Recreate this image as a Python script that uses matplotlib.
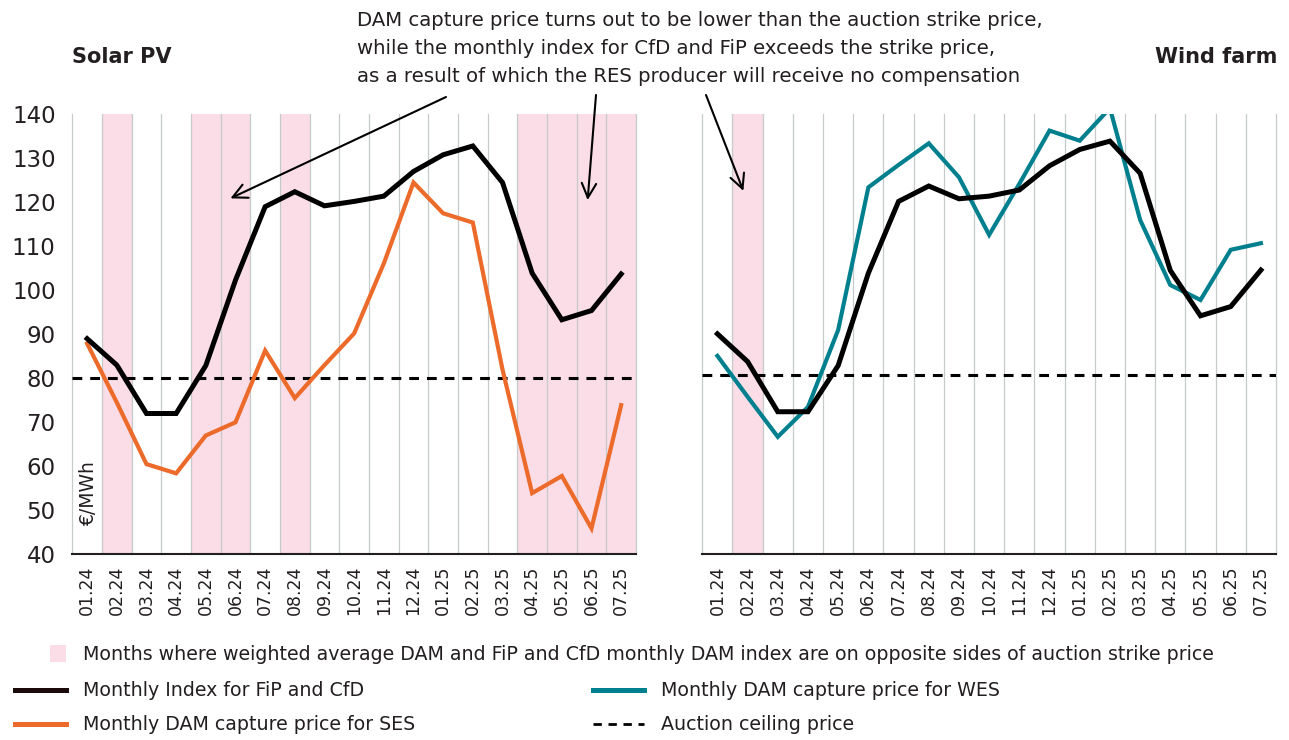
import numpy as np
import matplotlib
matplotlib.use("Agg")
import matplotlib.pyplot as plt
from matplotlib.lines import Line2D
from matplotlib.patches import Rectangle

plt.rcParams['font.family'] = ['DejaVu Sans']

months = ['01.24', '02.24', '03.24', '04.24', '05.24', '06.24', '07.24', '08.24', '09.24', '10.24',
          '11.24', '12.24', '01.25', '02.25', '03.25', '04.25', '05.25', '06.25', '07.25']

# solar PV panel
solar_index = [89.0, 83.0, 72.0, 72.0, 82.9, 102.3, 119.0, 122.4, 119.2, 120.2,
               121.4, 127.0, 130.8, 132.8, 124.5, 103.9, 93.3, 95.4, 103.7]
solar_capture = [87.9, 74.5, 60.5, 58.4, 67.0, 70.0, 86.3, 75.5, 83.0, 90.2,
                 106.1, 124.5, 117.5, 115.4, 82.0, 53.9, 57.8, 45.9, 73.9]
solar_strike = 80.0
solar_opposite = ['02.24', '05.24', '06.24', '08.24', '04.25', '05.25', '06.25', '07.25']

# wind farm panel
wind_index = [90.1, 83.8, 72.4, 72.4, 82.9, 103.9, 120.2, 123.7, 120.8, 121.4,
              122.8, 128.3, 132.0, 133.9, 126.6, 104.5, 94.2, 96.3, 104.6]
wind_capture = [85.1, 75.8, 66.7, 73.5, 91.0, 123.4, 128.5, 133.4, 125.7, 112.6,
                124.2, 136.3, 134.0, 141.4, 116.0, 101.2, 97.8, 109.2, 110.7]
wind_strike = 80.7
wind_opposite = ['02.24']

yticks = [40, 50, 60, 70, 80, 90, 100, 110, 120, 130, 140]

BLACK = '#000000'
ORANGE = '#EC6A2A'
TEAL = '#00808F'
PINK = '#FADDE6'
GRID = '#C6CACA'
TXT = '#231f20'

W, H = 1289, 740
fig = plt.figure(figsize=(W / 100, H / 100), dpi=100)


def fx(px):
    return px / W


def fy(py):
    return 1 - py / H


ax1 = fig.add_axes([fx(72.3), fy(554.3), fx(636 - 72.3), (554.3 - 114.3) / H])
ax2 = fig.add_axes([fx(702.3), fy(554.3), fx(1276 - 702.3), (554.3 - 114.3) / H])


def setup(ax, index, capture, cap_color, strike, opposite, show_y):
    x = np.arange(len(months)) + 0.5
    for m in opposite:
        i = months.index(m)
        ax.axvspan(i, i + 1, color=PINK, lw=0, zorder=0)
    for i in range(len(months) + 1):
        ax.axvline(i, color=GRID, lw=0.9, zorder=1, clip_on=False)
    ax.axhline(strike, color=BLACK, lw=2.2, dashes=(3.2, 2.6), zorder=2)
    ax.plot(x, capture, color=cap_color, lw=3.0, zorder=3, solid_joinstyle='miter')
    ax.plot(x, index, color=BLACK, lw=3.6, zorder=4, solid_joinstyle='miter')
    ax.set_xlim(0, len(months))
    ax.set_ylim(40, 140)
    ax.set_xticks(x)
    ax.set_xticklabels(months, rotation=90, fontsize=12.5, color=TXT)
    ax.tick_params(axis='x', length=0, pad=8)
    ax.set_yticks(yticks)
    if show_y:
        ax.set_yticklabels([str(v) for v in yticks], fontsize=16.5, color=TXT)
    else:
        ax.set_yticklabels([])
    ax.tick_params(axis='y', length=0, pad=12)
    for s in ['top', 'right', 'left']:
        ax.spines[s].set_visible(False)
    ax.spines['bottom'].set_color(TXT)
    ax.spines['bottom'].set_linewidth(1.5)
    ax.spines['bottom'].set_zorder(5)


setup(ax1, solar_index, solar_capture, ORANGE, solar_strike, solar_opposite, True)
setup(ax2, wind_index, wind_capture, TEAL, wind_strike, wind_opposite, False)

ax1.text(0.55, 46.5, '€/MWh', rotation=90, ha='center', va='bottom', fontsize=13.5, color=TXT)

fig.text(fx(72), fy(57), 'Solar PV', fontsize=15, fontweight='bold', ha='left', va='center', color=TXT)
fig.text(fx(1277), fy(57), 'Wind farm', fontsize=15, fontweight='bold', ha='right', va='center', color=TXT)

note_lines = ['DAM capture price turns out to be lower than the auction strike price,',
              'while the monthly index for CfD and FiP exceeds the strike price,',
              'as a result of which the RES producer will receive no compensation']
for k, line in enumerate(note_lines):
    fig.text(fx(357), fy(20 + 28.5 * k), line, fontsize=14.2, ha='left', va='center', color=TXT)

arrow = dict(arrowstyle='->', color=BLACK, lw=1.5, mutation_scale=26, shrinkA=0, shrinkB=0)
ax1.annotate('', xy=(5.33, 120.9), xycoords='data', xytext=(fx(446), fy(97)),
             textcoords='figure fraction', arrowprops=arrow)
ax1.annotate('', xy=(17.37, 120.5), xycoords='data', xytext=(fx(596), fy(95)),
             textcoords='figure fraction', arrowprops=arrow)
ax2.annotate('', xy=(1.36, 122.6), xycoords='data', xytext=(fx(706), fy(95)),
             textcoords='figure fraction', arrowprops=arrow)

# legend drawn by hand
fig.add_artist(Rectangle((fx(50), fy(662)), fx(16), 17 / H, color=PINK, lw=0))
fig.text(fx(83), fy(655), 'Months where weighted average DAM and FiP and CfD monthly DAM index are on opposite sides of auction strike price',
         fontsize=13.7, va='center', ha='left', color=TXT)
legend_rows = [
    (15, 690, dict(color='#1a0a0a', lw=3.6), 'Monthly Index for FiP and CfD'),
    (15, 724, dict(color=ORANGE, lw=3.6), 'Monthly DAM capture price for SES'),
    (593, 690, dict(color=TEAL, lw=3.6), 'Monthly DAM capture price for WES'),
    (593, 724, dict(color=BLACK, lw=2.0, dashes=(3, 2.4)), 'Auction ceiling price'),
]
for x0, y0, style, label in legend_rows:
    fig.add_artist(Line2D([fx(x0), fx(x0 + 51)], [fy(y0), fy(y0)], **style))
    fig.text(fx(x0 + 68), fy(y0), label, fontsize=13.7, va='center', ha='left', color=TXT)

fig.savefig('out.png', dpi=100)
